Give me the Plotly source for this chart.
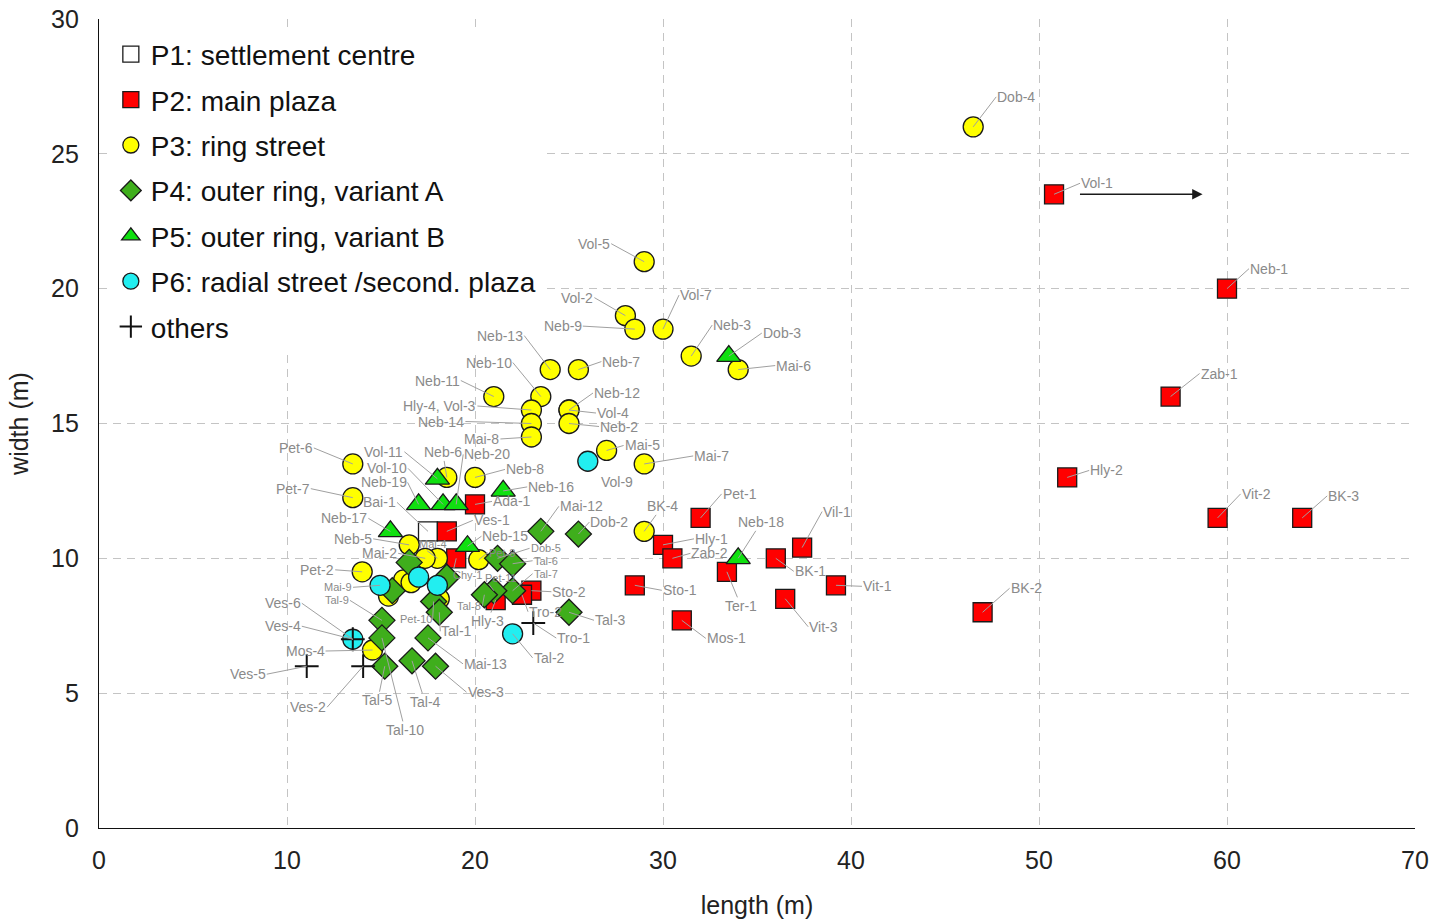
import plotly.graph_objects as go

# ---- data: plaza dimensions (length x width, metres) ----
p1_names = ["Bai-1"]
p1_len = [17.5]
p1_wid = [11.0]

p2_names = ["Vol-1", "Neb-1", "Zab-1", "Hly-2", "Vit-2", "BK-3", "BK-2", "Vit-1", "Vil-1",
            "BK-1", "Vit-3", "Ter-1", "Pet-1", "Hly-1", "Zab-2", "Sto-1", "Mos-1", "Sto-2",
            "Tro-2", "Hly-3", "Ada-1", "Ves-1", "Chy-1"]
p2_len = [50.8, 60.0, 57.0, 51.5, 59.5, 64.0, 47.0, 39.2, 37.4,
          36.0, 36.5, 33.4, 32.0, 30.0, 30.5, 28.5, 31.0, 23.0,
          22.5, 21.1, 20.0, 18.5, 19.0]
p2_wid = [23.5, 20.0, 16.0, 13.0, 11.5, 11.5, 8.0, 9.0, 10.4,
          10.0, 8.5, 9.5, 11.5, 10.5, 10.0, 9.0, 7.7, 8.8,
          8.65, 8.45, 12.0, 11.0, 10.0]

p3_names = ["Dob-4", "Vol-5", "Vol-2", "Neb-9", "Vol-7", "Neb-3", "Mai-6", "Neb-13", "Neb-7",
            "Neb-11", "Neb-10", "Hly-4, Vol-3", "Neb-14", "Mai-8", "Neb-12", "Vol-4", "Neb-2",
            "Mai-5", "Mai-7", "BK-4", "Pet-6", "Pet-7", "Neb-6", "Neb-8", "Neb-5", "Mai-4",
            "Mai-2", "Pet-8", "Pet-2", "Mos-4", "", "", "", ""]
p3_len = [46.5, 29.0, 28.0, 28.5, 30.0, 31.5, 34.0, 24.0, 25.5,
          21.0, 23.5, 23.0, 23.0, 23.0, 25.0, 25.0, 25.0,
          27.0, 29.0, 29.0, 13.5, 13.5, 18.5, 20.0, 16.5, 18.0,
          17.35, 20.2, 14.0, 14.55, 16.2, 16.6, 15.4, 18.1]
p3_wid = [26.0, 21.0, 19.0, 18.5, 18.5, 17.5, 17.0, 17.0, 17.0,
          16.0, 16.0, 15.5, 15.0, 14.5, 15.5, 15.5, 15.0,
          14.0, 13.5, 11.0, 13.5, 12.25, 13.0, 13.0, 10.5, 10.0,
          10.0, 9.95, 9.5, 6.6, 9.2, 9.1, 8.6, 8.5]

p4_names = ["Mai-12", "Dob-2", "Dob-5", "Tal-6", "Tal-7", "Pet-11", "Tal-8", "Tal-3", "Tal-9",
            "Tal-10", "Tal-5", "Tal-4", "Mai-13", "Ves-3", "Pet-10", "Tal-1", "", "", ""]
p4_len = [23.5, 25.5, 21.2, 22.0, 22.0, 21.0, 20.5, 25.0, 15.05,
          15.05, 15.2, 16.65, 17.5, 17.9, 17.8, 18.1, 16.5, 15.6, 18.5]
p4_wid = [11.0, 10.9, 10.0, 9.8, 8.8, 8.8, 8.65, 8.0, 7.7,
          7.05, 6.0, 6.2, 7.05, 6.0, 8.4, 8.0, 9.85, 8.8, 9.3]

p5_names = ["Dob-3", "Neb-18", "Neb-16", "Vol-11", "Neb-19", "Vol-10", "Neb-20", "Neb-17", "Neb-15"]
p5_len = [33.5, 34.0, 21.5, 18.0, 17.0, 18.3, 19.0, 15.5, 19.6]
p5_wid = [17.5, 10.0, 12.5, 12.95, 12.0, 12.0, 12.0, 11.0, 10.45]

p6_names = ["Vol-9", "Tal-2", "Ves-4", "Mai-9", "", ""]
p6_len = [26.0, 22.0, 13.5, 14.95, 17.0, 18.0]
p6_wid = [13.6, 7.2, 7.0, 9.0, 9.3, 9.0]

oth_names = ["Ves-6", "Ves-5", "Ves-2", "Tro-1"]
oth_len = [13.5, 11.05, 14.05, 23.1]
oth_wid = [7.0, 6.0, 6.0, 7.6]

groups = [
    ("P1: settlement centre", p1_names, p1_len, p1_wid),
    ("P2: main plaza", p2_names, p2_len, p2_wid),
    ("P3: ring street", p3_names, p3_len, p3_wid),
    ("P4: outer ring, variant A", p4_names, p4_len, p4_wid),
    ("P5: outer ring, variant B", p5_names, p5_len, p5_wid),
    ("P6: radial street /second. plaza", p6_names, p6_len, p6_wid),
    ("others", oth_names, oth_len, oth_wid),
]

# ---- styling ----
marker_styles = [
    dict(symbol="square", size=19, color="white", line=dict(color="#1a1a1a", width=1.3)),
    dict(symbol="square", size=19, color="#ff0000", line=dict(color="#1a1a1a", width=1.3)),
    dict(symbol="circle", size=20, color="#ffff00", line=dict(color="#1a1a1a", width=1.3)),
    dict(symbol="diamond", size=20, color="#3fae1c", line=dict(color="#1a1a1a", width=1.3)),
    dict(symbol="triangle-up", size=21, color="#10e010", line=dict(color="#1a1a1a", width=1.3)),
    dict(symbol="circle", size=20, color="#22eef0", line=dict(color="#1a1a1a", width=1.3)),
    dict(symbol="cross-thin", size=17, color="#111111", line=dict(color="#111111", width=2)),
]

# label placement: pixel offset of the text anchor from its point, and anchor side
label_pos = {
    "Dob-4": (23, -30, "left"), "Vol-1": (26, -11, "left"), "Neb-1": (22, -20, "left"),
    "Zab-1": (29, -23, "left"), "Hly-2": (22, -7, "left"), "Vit-2": (23, -24, "left"),
    "BK-3": (25, -22, "left"), "BK-2": (27, -24, "left"), "Vit-1": (26, 1, "left"),
    "Vil-1": (20, -36, "left"), "BK-1": (18, 13, "left"), "Vit-3": (23, 28, "left"),
    "Ter-1": (14, 34, "center"), "Neb-18": (23, -36, "center"), "Pet-1": (21, -24, "left"),
    "Hly-1": (31, -6, "left"), "Zab-2": (18, -5, "left"), "BK-4": (18, -25, "center"),
    "Sto-1": (27, 5, "left"), "Mos-1": (24, 18, "left"), "Mai-7": (49, -8, "left"),
    "Mai-5": (17, -5, "left"), "Vol-9": (12, 21, "left"), "Mai-6": (37, -4, "left"),
    "Dob-3": (33, -23, "left"), "Neb-3": (21, -31, "left"), "Vol-7": (16, -34, "left"),
    "Vol-5": (-33, -18, "right"), "Vol-2": (-31, -18, "right"), "Neb-9": (-52, -3, "right"),
    "Neb-13": (-26, -34, "right"), "Neb-7": (23, -8, "left"), "Neb-10": (-28, -34, "right"),
    "Neb-11": (-33, -16, "right"), "Hly-4, Vol-3": (-54, -4, "right"),
    "Neb-14": (-66, -2, "right"), "Mai-8": (-31, 2, "right"), "Neb-12": (24, -17, "left"),
    "Vol-4": (27, 3, "left"), "Neb-2": (30, 3, "left"), "Pet-6": (-39, -16, "right"),
    "Pet-7": (-42, -9, "right"), "Vol-11": (-33, -27, "right"), "Neb-6": (-4, -25, "center"),
    "Neb-20": (7, -50, "left"), "Neb-8": (30, -8, "left"), "Vol-10": (-35, -36, "right"),
    "Neb-19": (-11, -22, "right"), "Bai-1": (-31, -29, "right"), "Neb-16": (24, -4, "left"),
    "Ada-1": (17, -3, "left"), "Ves-1": (26, -11, "left"), "Neb-17": (-22, -13, "right"),
    "Mai-12": (18, -25, "left"), "Dob-2": (11, -12, "left"), "Neb-15": (14, -10, "left"),
    "Neb-5": (-36, -6, "right"), "Mai-4": (-19, -14, "left"), "Mai-2": (-27, -5, "right"),
    "Pet-8": (9, -7, "left"), "Dob-5": (32, -10, "left"), "Tal-6": (20, -3, "left"),
    "Tal-7": (20, -17, "left"), "Chy-1": (-4, 17, "left"), "Pet-11": (-10, -13, "left"),
    "Tal-8": (-2, 11, "right"), "Hly-3": (-8, 21, "center"), "Tro-2": (6, 17, "left"),
    "Sto-2": (20, 1, "left"), "Tal-3": (25, 8, "left"), "Tro-1": (23, 15, "left"),
    "Tal-2": (20, 24, "left"), "Mai-13": (35, 26, "left"), "Ves-3": (31, 26, "left"),
    "Tal-1": (1, 19, "left"), "Pet-10": (-1, 18, "right"), "Tal-9": (-32, -20, "right"),
    "Mai-9": (-27, 2, "right"), "Pet-2": (-27, -2, "right"), "Ves-6": (-51, -36, "right"),
    "Ves-4": (-51, -13, "right"), "Mos-4": (-47, 1, "right"), "Ves-5": (-40, 8, "right"),
    "Ves-2": (-36, 41, "right"), "Tal-5": (-7, 34, "center"), "Tal-4": (13, 41, "center"),
    "Tal-10": (23, 92, "center"),
}
small_labels = {"Pet-8", "Dob-5", "Tal-6", "Tal-7", "Chy-1", "Pet-11", "Tal-8",
                "Mai-9", "Tal-9", "Pet-10", "Mai-4"}

FONT = "Arial, Liberation Sans, sans-serif"
LABEL_GREY = "#8a8a8a"

fig = go.Figure()
annotations = []
for i, ((name, names, xs, ys), mk) in enumerate(zip(groups, marker_styles)):
    fig.add_trace(go.Scatter(
        x=xs, y=ys, mode="markers", name=name, marker=mk,
        legendgroup=f"g{i}", hoverinfo="text", text=names,
    ))
    for n, xv, yv in zip(names, xs, ys):
        if n not in label_pos:
            continue
        ax, ay, side = label_pos[n]
        annotations.append(dict(
            x=xv, y=yv, xref="x", yref="y", text=n,
            showarrow=True, arrowhead=0, arrowwidth=1, arrowcolor="#a0a0a0",
            ax=ax, ay=ay, xanchor=side, yanchor="middle",
            font=dict(family=FONT, size=11 if n in small_labels else 14, color=LABEL_GREY),
            borderpad=0,
        ))

# arrow pointing right from Vol-1 (plaza extends beyond the axis)
annotations.append(dict(
    x=58.7, y=23.5, ax=52.1, ay=23.5, xref="x", yref="y", axref="x", ayref="y",
    text="", showarrow=True, arrowhead=2, arrowsize=1.3, arrowwidth=1.6, arrowcolor="#1a1a1a",
))

grid = dict(showgrid=True, gridcolor="#c4c4c4", gridwidth=1, griddash="8px,6px")

fig.update_layout(
    width=1450, height=922,
    margin=dict(l=99, r=35, t=19, b=94),
    plot_bgcolor="white", paper_bgcolor="white",
    font=dict(family=FONT, color="#222222"),
    annotations=annotations,
    showlegend=True,
    legend=dict(
        x=0.009, y=0.987, xanchor="left", yanchor="top",
        bgcolor="white", borderwidth=0,
        font=dict(family=FONT, size=28, color="#111111"),
        tracegroupgap=6, itemwidth=30,
    ),
    xaxis=dict(
        range=[0, 70], tickvals=[0, 10, 20, 30, 40, 50, 60, 70],
        showline=True, linecolor="#111111", linewidth=1.3, zeroline=False,
        ticks="", tickfont=dict(size=25, color="#222222"), ticklabelstandoff=10,
        automargin=False,
        title=dict(text="length (m)", font=dict(size=25, color="#222222"), standoff=23),
        **grid,
    ),
    yaxis=dict(
        range=[0, 30], tickvals=[0, 5, 10, 15, 20, 25, 30],
        showline=True, linecolor="#111111", linewidth=1.3, zeroline=False,
        ticks="", tickfont=dict(size=25, color="#222222"), ticklabelstandoff=14,
        automargin=False,
        title=dict(text="width (m)", font=dict(size=25, color="#222222"), standoff=15),
        **grid,
    ),
)

fig.write_html("out.html")
